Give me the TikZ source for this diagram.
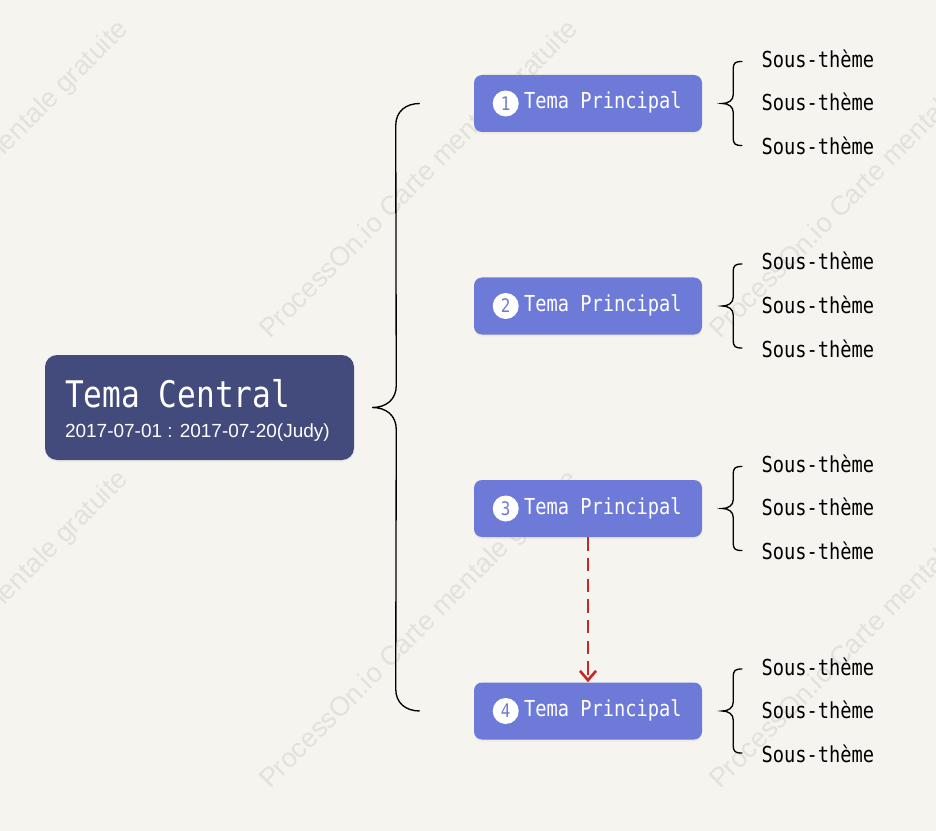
\documentclass[tikz,border=0pt]{standalone}
\usepackage{fontspec}
\setmainfont{Liberation Sans}
\newfontfamily\themefont[FakeStretch=0.85]{DejaVu Sans Mono}
\usepackage{xcolor}
\usetikzlibrary{arrows.meta,positioning,calc,shadows}
\definecolor{paper}{HTML}{F5F4EE}
\definecolor{centralnavy}{HTML}{434A7C}
\definecolor{topicblue}{HTML}{6E7AD8}
\definecolor{linkred}{HTML}{C62828}
\definecolor{wmgray}{HTML}{E2E1DA}

\begin{document}
\begin{tikzpicture}[x=0.75pt,y=-0.75pt,
  central/.style={fill=centralnavy,rounded corners=9pt,minimum width=231.75pt,
    minimum height=78.75pt,inner sep=0pt,
    drop shadow={shadow xshift=0pt,shadow yshift=-1.5pt,opacity=0.08}},
  topic/.style={fill=topicblue,rounded corners=6pt,minimum width=171pt,
    minimum height=42.75pt,inner sep=0pt,
    drop shadow={shadow xshift=0pt,shadow yshift=-1.5pt,opacity=0.08}},
  numdot/.style={circle,fill=white,minimum size=19.5pt,inner sep=0pt,
    text=topicblue,font=\themefont\fontsize{14}{16}\selectfont},
  topictext/.style={anchor=base west,inner sep=0pt,text=white,
    font=\themefont\fontsize{16.5}{20}\selectfont},
  subtheme/.style={anchor=base west,inner sep=0pt,
    font=\themefont\fontsize{16.5}{20}\selectfont},
  brace/.style={draw=black,line width=1pt},
  linkarrow/.style={draw=linkred,line width=2.2pt,dash pattern=on 10pt off 5.5pt,
    -{Straight Barb[length=7pt,width=12pt,line width=2pt]}},
  watermark/.style={anchor=base west,rotate=45,inner sep=0pt,text=wmgray,
    font=\fontsize{20.25}{24}\selectfont}
]
\fill[paper] (0,0) rectangle (936,831);
\useasboundingbox (0,0) rectangle (936,831);

% watermark
\foreach \wx in {-180,270,720}
  \foreach \wy in {340,790}
    \node[watermark] at (\wx,\wy) {ProcessOn.io Carte mentale gratuite};

% central topic
\node[central] (c) at (199.5,407.5) {};
\node[anchor=base west,inner sep=0pt,text=white,
  font=\themefont\fontsize{27.5}{32}\selectfont] (ctitle) at ($(c.west)+(20,0)$) {Tema Central};
\node[anchor=base west,inner sep=0pt,text=white,
  font=\fontsize{14.25}{17}\selectfont] (cdate) at ($(c.west)+(20,30)$) {2017-07-01 : 2017-07-20(Judy)};

% main topics and sub-themes
\foreach \i/\y in {1/103.5,2/306,3/508.5,4/711}{
  \node[topic] (t\i) at (588,\y) {};
  \node[numdot] (d\i) at ($(t\i.west)+(32,0)$) {\i};
  \node[topictext] (l\i) at ($(t\i.west)+(50,5.5)$) {Tema Principal};
  \coordinate (k\i) at ($(t\i.east)+(20,0)$);
  \draw[brace] ($(k\i)+(20,-42)$) .. controls +(-7,0) and +(0,-7) .. ++(-9,8)
    -- ($(k\i)+(11,-9)$) .. controls +(0,6) and +(6,0) .. (k\i)
    .. controls +(6,0) and +(0,-6) .. ++(11,9)
    -- ($(k\i)+(11,34)$) .. controls +(0,7) and +(-7,0) .. ($(k\i)+(20,42)$);
  \node[subtheme] (s\i-1) at ($(t\i.east)+(59,-36)$) {Sous-thème};
  \node[subtheme] (s\i-2) at ($(t\i.east)+(59,7)$) {Sous-thème};
  \node[subtheme] (s\i-3) at ($(t\i.east)+(59,51)$) {Sous-thème};
}

% big brace
\coordinate (tip) at ($(c.east)+(18,0)$);
\draw[brace] ($(t1.west)+(-54,0)$) .. controls +(-14,0) and +(0,-14) .. ++(-24,22)
  -- ($(tip)+(24,-22)$) .. controls +(0,14) and +(14,0) .. (tip)
  .. controls +(14,0) and +(0,-14) .. ++(24,22)
  -- ($(t4.west)+(-78,-22)$) .. controls +(0,14) and +(-14,0) .. ($(t4.west)+(-54,0)$);

\draw[linkarrow] (t3.south) -- (t4.north);
\end{tikzpicture}
\end{document}
